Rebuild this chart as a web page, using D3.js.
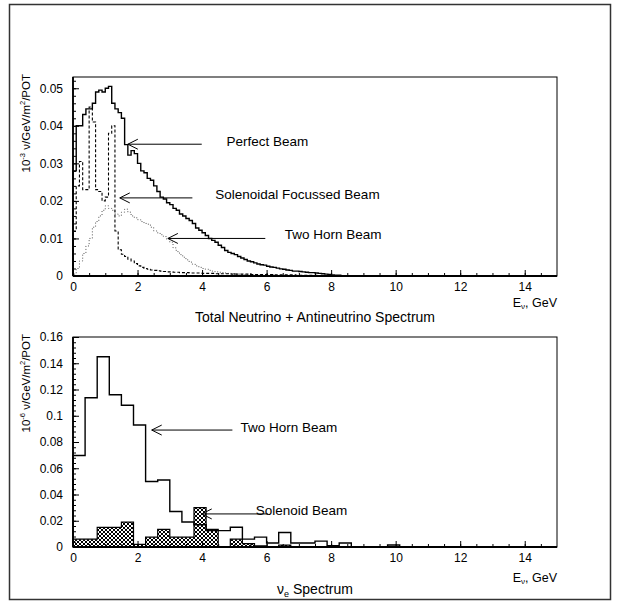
<!DOCTYPE html>
<html>
<head>
<meta charset="utf-8">
<script src="https://cdn.jsdelivr.net/npm/d3@7"></script>
<style>
  body { margin: 0; background: #fff; }
  svg { display: block; font-family: "Liberation Sans", Arial, sans-serif; }
</style>
</head>
<body>
<div id="chart"></div>
<script>
// ------------------------------------------------------------------
// Data
// ------------------------------------------------------------------
// Top panel: 0.1 GeV bins, 10^-3 nu/GeV/m^2/POT
const TOP_BIN = 0.1;

const perfectBeam = [
  0.028, 0.040, 0.040, 0.043, 0.0445, 0.0445, 0.046, 0.049, 0.0495, 0.049,
  0.050, 0.0505, 0.046, 0.0445, 0.0435, 0.042, 0.035, 0.0322, 0.0334, 0.0326,
  0.030, 0.028, 0.0275, 0.026, 0.0255, 0.024, 0.0225, 0.021, 0.0205, 0.0195,
  0.019, 0.018, 0.0175, 0.0165, 0.016, 0.0153, 0.0148, 0.014, 0.0128, 0.0122,
  0.0115, 0.0108, 0.0100, 0.0095, 0.0090, 0.0082, 0.0076, 0.0068, 0.0063, 0.0060,
  0.0057, 0.0052, 0.0048, 0.0044, 0.0040, 0.0038, 0.0035, 0.0032, 0.0030, 0.0029,
  0.0026, 0.0024, 0.0023, 0.0021, 0.0019, 0.0018, 0.0016, 0.0015, 0.0013, 0.0013,
  0.0012, 0.0011, 0.0010, 0.0009, 0.0009, 0.0008, 0.0007, 0.0006, 0.0005, 0.0004,
  0.0003, 0.0002, 0.0002, 0.0001, 0.0001, 0.0001, 0.0001, 0, 0, 0
];

const solenoidBeam = [
  0.012, 0.024, 0.0305, 0.023, 0.023, 0.045, 0.041, 0.023, 0.0225, 0.020,
  0.021, 0.038, 0.040, 0.012, 0.0070, 0.0058, 0.0052, 0.0045, 0.0040, 0.0033,
  0.0027, 0.0023, 0.0020, 0.0018, 0.0016, 0.0015, 0.0014, 0.0013, 0.0012, 0.0011,
  0.0011, 0.0010, 0.0010, 0.0009, 0.0009, 0.0009, 0.0008, 0.0008, 0.0008, 0.0008,
  0.0007, 0.0007, 0.0007, 0.0007, 0.0006, 0.0006, 0.0006, 0.0006, 0.0006, 0.0005,
  0.0005, 0.0005, 0.0005, 0.0005, 0.0005, 0.0004, 0.0004, 0.0004, 0.0004, 0.0004,
  0.0004, 0.0004, 0.0003, 0.0003, 0.0003, 0.0003, 0.0003, 0.0003, 0.0003, 0.0002,
  0.0002, 0.0002, 0.0002, 0.0002, 0.0002, 0.0002, 0.0001, 0.0001, 0.0001, 0
];

const twoHornBeam = [
  0.0005, 0.002, 0.004, 0.006, 0.008, 0.010, 0.013, 0.0145, 0.016, 0.0175,
  0.0187, 0.018, 0.0175, 0.0165, 0.016, 0.017, 0.0178, 0.017, 0.016, 0.0155,
  0.015, 0.0145, 0.014, 0.0138, 0.013, 0.012, 0.0115, 0.011, 0.0105, 0.0098,
  0.009, 0.0075, 0.0065, 0.0057, 0.005, 0.0043, 0.0037, 0.0031, 0.0027, 0.0023,
  0.0020, 0.0018, 0.0015, 0.0013, 0.0011, 0.0010, 0.0009, 0.0008, 0.0007, 0.0006,
  0.0005, 0.0005, 0.0004, 0.0004, 0.0003, 0.0003, 0.0003, 0.0002, 0.0002, 0.0001
];

// Bottom panel: 0.375 GeV bins, 10^-6 nu/GeV/m^2/POT
const BOT_BIN = 0.375;

const nueTwoHorn = [
  0.0697, 0.1137, 0.145, 0.116, 0.108, 0.093, 0.0499, 0.051, 0.027, 0.019,
  0.017, 0.0125, 0.0125, 0.015, 0.006, 0.0075, 0.003, 0.011, 0.003, 0.003,
  0.0045, 0.001, 0.003, 0, 0, 0, 0.0015, 0
];

const nueSolenoid = [
  0.006, 0.006, 0.015, 0.015, 0.019, 0.002, 0.0075, 0.0135, 0.0075, 0.0075,
  0.030, 0.0135, 0, 0.006, 0.0025, 0.0008, 0, 0.0015, 0
];

// Axis ticks
const xMajorTicks = [0, 2, 4, 6, 8, 10, 12, 14];
const xMinorStep = 0.5;
const topYTicks = [0, 0.01, 0.02, 0.03, 0.04, 0.05];
const topYTickLabels = ["0", "0.01", "0.02", "0.03", "0.04", "0.05"];
const topYMinorStep = 0.002;
const botYTicks = [0, 0.02, 0.04, 0.06, 0.08, 0.1, 0.12, 0.14, 0.16];
const botYTickLabels = ["0", "0.02", "0.04", "0.06", "0.08", "0.1", "0.12", "0.14", "0.16"];
const botYMinorStep = 0.004;

// Annotations (data units: GeV, flux)
const topNotes = [
  { text: "Perfect Beam",             tx: 4.76, ty: 0.0360, from: [3.99, 0.0351], to: [1.70, 0.0351] },
  { text: "Solenoidal Focussed Beam", tx: 4.41, ty: 0.0218, from: [3.70, 0.0208], to: [1.45, 0.0208] },
  { text: "Two Horn Beam",            tx: 6.56, ty: 0.0110, from: [5.96, 0.0100], to: [2.94, 0.0100] }
];
const botNotes = [
  { text: "Two Horn Beam", tx: 5.19, ty: 0.0915, from: [4.94, 0.0891], to: [2.44, 0.0891] },
  { text: "Solenoid Beam", tx: 5.66, ty: 0.0283, from: [6.05, 0.0252], to: [3.99, 0.0252] }
];

// ------------------------------------------------------------------
// Layout
// ------------------------------------------------------------------
const W = 619, H = 610;
const plotLeft = 73, plotRight = 557;
const topPanel = { top: 77, bottom: 276, yMax: 0.053 };
const botPanel = { top: 337, bottom: 547, yMax: 0.16 };
const FONT = "Liberation Sans, Arial, sans-serif";

const svg = d3.select("#chart").append("svg")
  .attr("width", W)
  .attr("height", H);

// outer frame
svg.append("rect")
  .attr("x", 9.5).attr("y", 4.5)
  .attr("width", 601).attr("height", 595)
  .attr("fill", "none")
  .attr("stroke", "#333")
  .attr("stroke-width", 1.5);

// cross hatch for the solenoid nu_e histogram
const defs = svg.append("defs");
const pat = defs.append("pattern")
  .attr("id", "xhatch")
  .attr("patternUnits", "userSpaceOnUse")
  .attr("width", 4).attr("height", 4);
pat.append("rect").attr("width", 4).attr("height", 4).attr("fill", "#fff");
pat.append("path")
  .attr("d", "M0,0 L4,4 M4,0 L0,4")
  .attr("stroke", "#000")
  .attr("stroke-width", 1);

const x = d3.scaleLinear().domain([0, 15]).range([plotLeft, plotRight]);

// -------------------------------------------------------------
// Helpers
// -------------------------------------------------------------
function histPoints(values, binW) {
  const pts = [[0, 0]];
  values.forEach((v, i) => {
    pts.push([i * binW, v]);
    pts.push([(i + 1) * binW, v]);
  });
  pts.push([values.length * binW, 0]);
  return pts;
}

function drawFrame(panel, y, yTicks, yLabels, yMinorStep, eOffset) {
  const g = svg.append("g");

  g.append("rect")
    .attr("x", plotLeft).attr("y", panel.top)
    .attr("width", plotRight - plotLeft)
    .attr("height", panel.bottom - panel.top)
    .attr("fill", "none")
    .attr("stroke", "#000")
    .attr("stroke-width", 1);

  // minor ticks first, then major with labels
  const xMinor = d3.range(0, 15, xMinorStep);
  g.append("g")
    .attr("transform", `translate(0,${panel.bottom})`)
    .call(d3.axisBottom(x).tickValues(xMinor).tickSize(-3).tickFormat(""))
    .call(a => a.select(".domain").remove());

  g.append("g")
    .attr("transform", `translate(0,${panel.bottom})`)
    .call(d3.axisBottom(x).tickValues(xMajorTicks).tickSize(-6).tickPadding(6)
      .tickFormat(d3.format("d")))
    .call(a => a.select(".domain").remove())
    .call(a => a.selectAll("text").attr("font-size", 12).attr("fill", "#000")
      .attr("font-family", FONT));

  const yMinor = d3.range(0, panel.yMax, yMinorStep);
  g.append("g")
    .attr("transform", `translate(${plotLeft},0)`)
    .call(d3.axisLeft(y).tickValues(yMinor).tickSize(-3).tickFormat(""))
    .call(a => a.select(".domain").remove());

  g.append("g")
    .attr("transform", `translate(${plotLeft},0)`)
    .call(d3.axisLeft(y).tickValues(yTicks).tickSize(-6).tickPadding(10)
      .tickFormat((d, i) => yLabels[i]))
    .call(a => a.select(".domain").remove())
    .call(a => a.selectAll("text").attr("font-size", 12).attr("fill", "#000")
      .attr("font-family", FONT));

  g.selectAll(".tick line").attr("stroke", "#000").attr("stroke-width", 1);

  // heavier axis lines
  g.append("line")
    .attr("x1", plotLeft).attr("x2", plotRight)
    .attr("y1", panel.bottom).attr("y2", panel.bottom)
    .attr("stroke", "#000").attr("stroke-width", 1.8);
  g.append("line")
    .attr("x1", plotLeft).attr("x2", plotLeft)
    .attr("y1", panel.top).attr("y2", panel.bottom)
    .attr("stroke", "#000").attr("stroke-width", 1.8);

  // E_nu, GeV
  const ex = g.append("text")
    .attr("x", plotRight).attr("y", panel.bottom + eOffset)
    .attr("text-anchor", "end")
    .attr("font-size", 12.5);
  ex.append("tspan").text("E");
  ex.append("tspan").attr("font-size", 8).attr("dy", 2).text("ν");
  ex.append("tspan").attr("dy", -2).text(", GeV");
}

function yTitle(panel, exponent) {
  const t = svg.append("text")
    .attr("transform", `translate(30,${panel.top - 3}) rotate(-90)`)
    .attr("text-anchor", "end")
    .attr("font-size", 11.5);
  t.append("tspan").text("10");
  t.append("tspan").attr("font-size", 7.5).attr("dy", -5).text(exponent);
  t.append("tspan").attr("dy", 5).text(" ν/GeV/m");
  t.append("tspan").attr("font-size", 7.5).attr("dy", -5).text("2");
  t.append("tspan").attr("dy", 5).text("/POT");
}

function drawNotes(notes, y) {
  notes.forEach(n => {
    svg.append("text")
      .attr("x", x(n.tx)).attr("y", y(n.ty))
      .attr("dy", "0.35em")
      .attr("font-size", 13.5)
      .text(n.text);

    const x1 = x(n.from[0]), y1 = y(n.from[1]);
    const x2 = x(n.to[0]), y2 = y(n.to[1]);
    svg.append("line")
      .attr("x1", x1).attr("y1", y1).attr("x2", x2).attr("y2", y2)
      .attr("stroke", "#000").attr("stroke-width", 1);
    svg.append("path")
      .attr("d", `M${x2 + 10},${y2 - 5} L${x2},${y2} L${x2 + 10},${y2 + 5}`)
      .attr("fill", "none").attr("stroke", "#000").attr("stroke-width", 1);
  });
}

// -------------------------------------------------------------
// Top panel: total nu + anti-nu spectrum
// -------------------------------------------------------------
const yTop = d3.scaleLinear().domain([0, topPanel.yMax]).range([topPanel.bottom, topPanel.top]);
const lineTop = d3.line().x(d => x(d[0])).y(d => yTop(d[1]));

svg.append("path")
  .attr("d", lineTop(histPoints(twoHornBeam, TOP_BIN)))
  .attr("fill", "none").attr("stroke", "#555")
  .attr("stroke-width", 1).attr("stroke-dasharray", "1,2");

svg.append("path")
  .attr("d", lineTop(histPoints(solenoidBeam, TOP_BIN)))
  .attr("fill", "none").attr("stroke", "#000")
  .attr("stroke-width", 1.1).attr("stroke-dasharray", "3,2");

svg.append("path")
  .attr("d", lineTop(histPoints(perfectBeam, TOP_BIN)))
  .attr("fill", "none").attr("stroke", "#000")
  .attr("stroke-width", 1.4);

drawFrame(topPanel, yTop, topYTicks, topYTickLabels, topYMinorStep, 31);
yTitle(topPanel, "-3");
drawNotes(topNotes, yTop);

svg.append("text")
  .attr("x", (plotLeft + plotRight) / 2).attr("y", topPanel.bottom + 46)
  .attr("text-anchor", "middle")
  .attr("font-size", 14)
  .text("Total Neutrino + Antineutrino Spectrum");

// -------------------------------------------------------------
// Bottom panel: nu_e spectrum
// -------------------------------------------------------------
const yBot = d3.scaleLinear().domain([0, botPanel.yMax]).range([botPanel.bottom, botPanel.top]);
const lineBot = d3.line().x(d => x(d[0])).y(d => yBot(d[1]));

svg.append("path")
  .attr("d", lineBot(histPoints(nueSolenoid, BOT_BIN)) + "Z")
  .attr("fill", "url(#xhatch)").attr("stroke", "#000")
  .attr("stroke-width", 1.2);

svg.append("path")
  .attr("d", lineBot(histPoints(nueTwoHorn, BOT_BIN)))
  .attr("fill", "none").attr("stroke", "#000")
  .attr("stroke-width", 1.4);

drawFrame(botPanel, yBot, botYTicks, botYTickLabels, botYMinorStep, 35);
yTitle(botPanel, "-6");
drawNotes(botNotes, yBot);

const nt = svg.append("text")
  .attr("x", (plotLeft + plotRight) / 2).attr("y", botPanel.bottom + 47)
  .attr("text-anchor", "middle")
  .attr("font-size", 14);
nt.append("tspan").text("ν");
nt.append("tspan").attr("font-size", 9).attr("dy", 3).text("e");
nt.append("tspan").attr("dy", -3).text(" Spectrum");
</script>
</body>
</html>
